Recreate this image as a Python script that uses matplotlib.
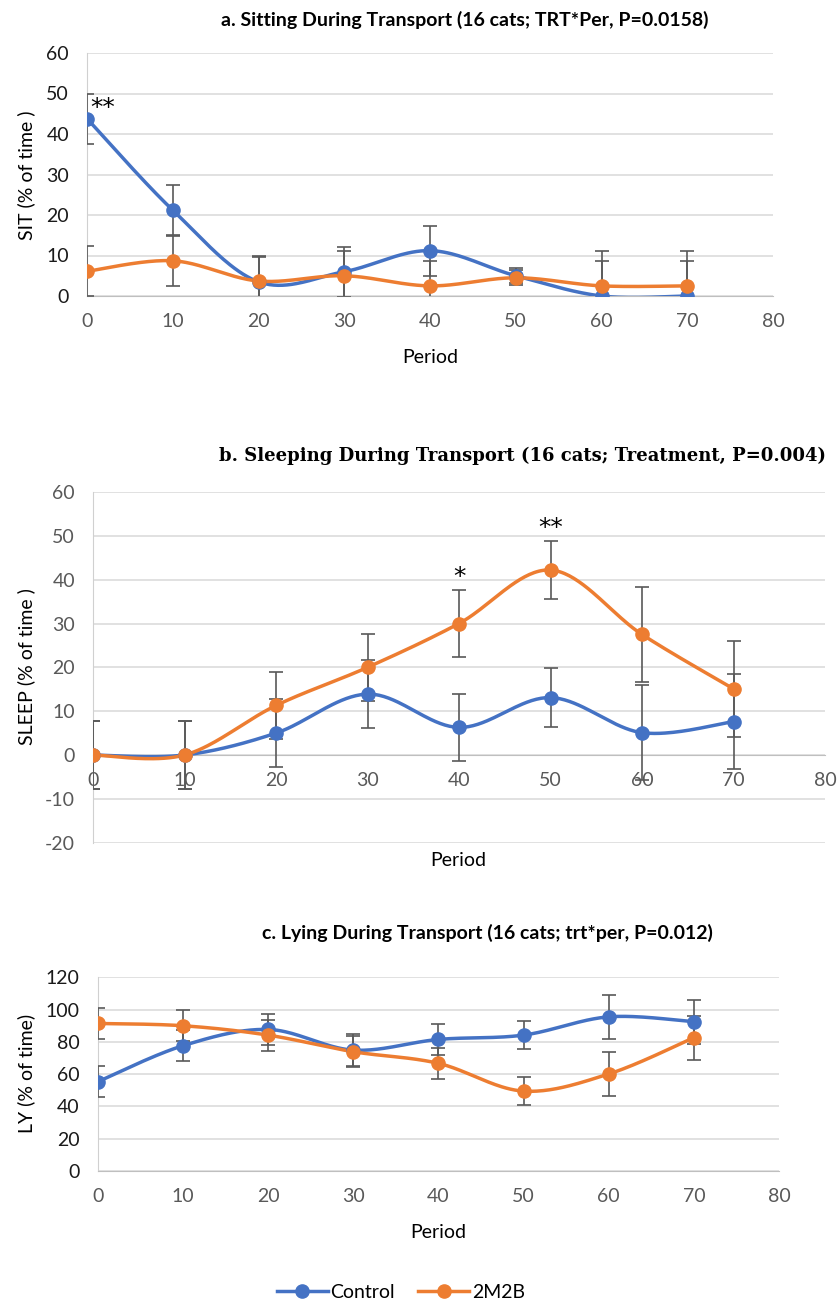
import numpy as np
import matplotlib
matplotlib.use("Agg")
from matplotlib import pyplot as plt
from matplotlib.lines import Line2D

# data
periods = [0, 10, 20, 30, 40, 50, 60, 70]

sit_control = [43.8, 21.2, 3.5, 6.0, 11.2, 5.0, 0.0, 0.0]
sit_2m2b = [6.1, 8.7, 3.7, 5.0, 2.5, 4.5, 2.5, 2.5]
sit_se = [6.2, 6.2, 6.2, 6.2, 6.2, 1.8, 8.6, 8.6]

sleep_control = [0.0, 0.0, 5.0, 13.9, 6.3, 13.1, 5.1, 7.6]
sleep_2m2b = [0.0, 0.0, 11.3, 20.0, 30.0, 42.2, 27.5, 15.1]
sleep_se = [7.7, 7.7, 7.7, 7.7, 7.7, 6.7, 10.9, 10.9]

ly_control = [55.3, 77.6, 87.7, 74.9, 81.5, 84.2, 95.5, 92.5]
ly_2m2b = [91.4, 90.0, 84.2, 73.9, 66.7, 49.5, 60.1, 82.6]
ly_se = [9.7, 9.7, 9.6, 9.7, 9.7, 8.7, 13.6, 13.7]

series_names = ["Control", "2M2B"]
BLUE = "#4472C4"
ORANGE = "#ED7D31"
W, H = 838, 1303
FS = 14

plt.rcParams['font.family'] = ['Lato', 'DejaVu Sans']
plt.rcParams['axes.unicode_minus'] = False


def smooth(x, y, n=40):
    # excel-like smoothed line (bezier through the points)
    pts = np.column_stack([x, y]).astype(float)
    out = []
    for i in range(len(pts) - 1):
        p0 = pts[i - 1] if i > 0 else pts[i]
        p1, p2 = pts[i], pts[i + 1]
        p3 = pts[i + 2] if i + 2 < len(pts) else pts[i + 1]
        c1 = p1 + (p2 - p0) / 6
        c2 = p2 - (p3 - p1) / 6
        t = np.linspace(0, 1, n)[:, None]
        out.append((1 - t)**3 * p1 + 3 * (1 - t)**2 * t * c1
                   + 3 * (1 - t) * t**2 * c2 + t**3 * p2)
    return np.vstack(out)


def px_axes(fig, left, right, top, bottom):
    return fig.add_axes([left / W, 1 - bottom / H, (right - left) / W, (bottom - top) / H])


def draw_panel(ax, ctrl, trt, se, ylim, step, ycolor):
    for vals, col in ((ctrl, BLUE), (trt, ORANGE)):
        ax.errorbar(periods, vals, yerr=se, fmt='none', ecolor='#595959',
                    elinewidth=1.2, capsize=5, capthick=1.2, zorder=3)
        sm = smooth(periods, vals)
        ax.plot(sm[:, 0], sm[:, 1], color=col, lw=2.5, zorder=4)
        ax.plot(periods, vals, 'o', color=col, ms=9.5, zorder=5)
    ax.set_xlim(0, 80)
    ax.set_ylim(*ylim)
    ax.set_xticks(np.arange(0, 81, 10))
    ax.set_yticks(np.arange(ylim[0], ylim[1] + 1, step))
    ax.grid(axis='y', color='#d9d9d9', lw=1.1, zorder=0)
    ax.set_axisbelow(True)
    for s in ('top', 'right'):
        ax.spines[s].set_visible(False)
    ax.spines['left'].set_color('#d0d0d0')
    ax.spines['bottom'].set_color('#bfbfbf')
    ax.spines['bottom'].set_position(('data', 0))
    ax.tick_params(axis='both', length=0, labelsize=FS)
    ax.tick_params(axis='x', pad=12, colors='#595959')
    ax.tick_params(axis='y', pad=13, colors=ycolor)


fig = plt.figure(figsize=(W / 100, H / 100), dpi=100)

# a. sitting
ax1 = px_axes(fig, 87, 773, 53, 296)
draw_panel(ax1, sit_control, sit_2m2b, sit_se, (0, 60), 10, '#1a1a1a')
ax1.text(0.4, 46.5, '**', fontsize=18, family='DejaVu Sans', va='center', ha='left')
fig.text(465 / W, 1 - 20 / H, 'a. Sitting During Transport (16 cats; TRT*Per, P=0.0158)',
         ha='center', va='center', fontsize=FS, fontweight='bold')
fig.text(26 / W, 1 - 175 / H, 'SIT (% of time )', rotation=90, ha='center', va='center', fontsize=FS)
fig.text(430 / W, 1 - 358 / H, 'Period', ha='center', va='center', fontsize=FS)

# b. sleeping
ax2 = px_axes(fig, 93, 825, 492, 842.7)
draw_panel(ax2, sleep_control, sleep_2m2b, sleep_se, (-20, 60), 10, '#595959')
ax2.text(40, 40.6, '*', fontsize=18, family='DejaVu Sans', va='center', ha='center')
ax2.text(50, 51.8, '**', fontsize=18, family='DejaVu Sans', va='center', ha='center')
fig.text(522 / W, 1 - 456 / H, 'b. Sleeping During Transport (16 cats; Treatment, P=0.004)',
         ha='center', va='center', fontsize=13, fontweight='bold', family='DejaVu Serif')
fig.text(26 / W, 1 - 667 / H, 'SLEEP (% of time )', rotation=90, ha='center', va='center', fontsize=FS)
fig.text(458 / W, 1 - 860 / H, 'Period', ha='center', va='center', fontsize=FS)

# c. lying
ax3 = px_axes(fig, 97.7, 779, 977.3, 1171)
draw_panel(ax3, ly_control, ly_2m2b, ly_se, (0, 120), 20, '#1a1a1a')
fig.text(487 / W, 1 - 933 / H, 'c. Lying During Transport (16 cats; trt*per, P=0.012)',
         ha='center', va='center', fontsize=FS, fontweight='bold')
fig.text(26 / W, 1 - 1073 / H, 'LY (% of time)', rotation=90, ha='center', va='center', fontsize=FS)
fig.text(438 / W, 1 - 1232 / H, 'Period', ha='center', va='center', fontsize=FS)

handles = [Line2D([], [], color=BLUE, lw=2.5, marker='o', ms=9.5),
           Line2D([], [], color=ORANGE, lw=2.5, marker='o', ms=9.5)]
fig.legend(handles, series_names, loc='center', bbox_to_anchor=(401 / W, 1 - 1292 / H),
           ncol=2, frameon=False, fontsize=FS, handlelength=2.6, handletextpad=0.15,
           columnspacing=1.2)

fig.savefig('out.png', dpi=100)
